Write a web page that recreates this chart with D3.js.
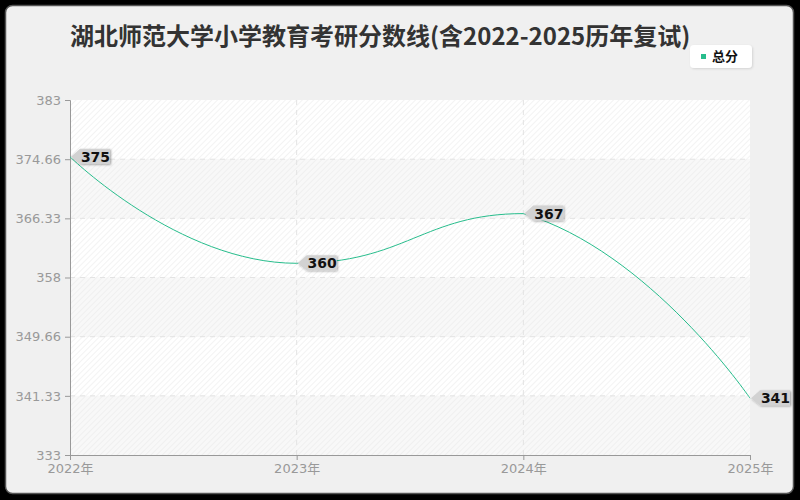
<!DOCTYPE html>
<html>
<head>
<meta charset="utf-8">
<script src="https://cdn.jsdelivr.net/npm/d3@7"></script>
<style>
  html, body { margin: 0; padding: 0; background: #000; }
  svg { display: block; }
</style>
</head>
<body>
<svg id="chart"></svg>
<script>
const chartTitle = "湖北师范大学小学教育考研分数线(含2022-2025历年复试)";
const seriesName = "总分";
const years = ["2022年", "2023年", "2024年", "2025年"];
const scores = [375, 360, 367, 341];
const yTicks = [333, 341.33, 349.66, 358, 366.33, 374.66, 383];

class LineChart {
    margin = { top: 100, right: 50, bottom: 45, left: 70 }

    constructor(svg, width = 800, height = 500) {
        this.svg = svg;
        this.width = width;
        this.height = height;
        this.color = "#27bd8c";
    }

    // smooth line, control points kept inside the box of the neighbours
    static smoothCurve(context) {
        let pts;
        const s = 0.5;
        return {
            areaStart() {}, areaEnd() {},
            lineStart() { pts = []; },
            point(x, y) { pts.push([+x, +y]); },
            lineEnd() {
                const n = pts.length;
                if (!n) return;
                context.moveTo(pts[0][0], pts[0][1]);
                let cx0 = pts[0][0], cy0 = pts[0][1];
                for (let i = 1; i < n; i++) {
                    const [x, y] = pts[i];
                    const [px, py] = pts[i - 1];
                    let cx1 = x, cy1 = y, nx0 = x, ny0 = y;
                    if (i < n - 1) {
                        const [nx, ny] = pts[i + 1];
                        let vx = nx - px, vy = ny - py;
                        const lp = Math.hypot(x - px, y - py);
                        const ln = Math.hypot(nx - x, ny - y);
                        const r = ln / (ln + lp);
                        nx0 = x + vx * s * r;
                        ny0 = y + vy * s * r;
                        nx0 = Math.max(Math.min(nx0, Math.max(nx, x)), Math.min(nx, x));
                        ny0 = Math.max(Math.min(ny0, Math.max(ny, y)), Math.min(ny, y));
                        vx = nx0 - x; vy = ny0 - y;
                        cx1 = x - vx * lp / ln;
                        cy1 = y - vy * lp / ln;
                        cx1 = Math.max(Math.min(cx1, Math.max(px, x)), Math.min(px, x));
                        cy1 = Math.max(Math.min(cy1, Math.max(py, y)), Math.min(py, y));
                    }
                    context.bezierCurveTo(cx0, cy0, cx1, cy1, x, y);
                    cx0 = nx0; cy0 = ny0;
                }
            }
        };
    }

    initialize() {
        const W = this.width, H = this.height, m = this.margin;
        this.svg = d3.select(this.svg).attr("width", W).attr("height", H);

        const defs = this.svg.append("defs");
        const pat = defs.append("pattern")
            .attr("id", "hatch")
            .attr("width", 4).attr("height", 4)
            .attr("patternUnits", "userSpaceOnUse")
            .attr("patternTransform", "rotate(45)");
        pat.append("line")
            .attr("x1", 0).attr("y1", 0).attr("x2", 0).attr("y2", 4)
            .attr("stroke", "#e8e8e8").attr("stroke-width", 1);
        const sh = defs.append("filter").attr("id", "shadow")
            .attr("x", "-20%").attr("y", "-30%").attr("width", "150%").attr("height", "170%");
        sh.append("feDropShadow")
            .attr("dx", 1).attr("dy", 1).attr("stdDeviation", 0.8)
            .attr("flood-color", "#000").attr("flood-opacity", 0.35);
        const sh2 = defs.append("filter").attr("id", "legshadow")
            .attr("x", "-20%").attr("y", "-30%").attr("width", "150%").attr("height", "170%");
        sh2.append("feDropShadow")
            .attr("dx", 1).attr("dy", 1).attr("stdDeviation", 1)
            .attr("flood-color", "#000").attr("flood-opacity", 0.12);

        // panel
        this.svg.append("rect")
            .attr("x", 5.5).attr("y", 5.5)
            .attr("width", W - 12).attr("height", H - 12)
            .attr("rx", 7)
            .attr("fill", "#f0f0f0")
            .attr("stroke", "#555").attr("stroke-width", 1.5);

        const x = d3.scalePoint().domain(years).range([m.left, W - m.right]);
        const y = d3.scaleLinear().domain([yTicks[0], yTicks[yTicks.length - 1]])
            .range([H - m.bottom, m.top]);

        // bands
        const bands = d3.pairs(yTicks);
        this.svg.append("g").selectAll("rect")
            .data(bands)
            .join("rect")
            .attr("x", m.left)
            .attr("width", W - m.right - m.left)
            .attr("y", d => y(d[1]))
            .attr("height", d => y(d[0]) - y(d[1]))
            .attr("fill", (d, i) => (bands.length - 1 - i) % 2 === 0 ? "#ffffff" : "#f8f8f8");
        this.svg.append("rect")
            .attr("x", m.left).attr("y", m.top)
            .attr("width", W - m.right - m.left).attr("height", H - m.bottom - m.top)
            .attr("fill", "url(#hatch)");

        // grid
        this.svg.append("g").selectAll("line")
            .data(yTicks.slice(1, -1))
            .join("line")
            .attr("x1", m.left).attr("x2", W - m.right)
            .attr("y1", d => y(d)).attr("y2", d => y(d))
            .attr("stroke", "#e3e3e3").attr("stroke-dasharray", "5,5");
        this.svg.append("g").selectAll("line")
            .data(years.slice(1, -1))
            .join("line")
            .attr("x1", d => x(d)).attr("x2", d => x(d))
            .attr("y1", m.top).attr("y2", H - m.bottom)
            .attr("stroke", "#e3e3e3").attr("stroke-dasharray", "5,5");

        // axes
        const yAxis = this.svg.append("g")
            .attr("transform", `translate(${m.left},0)`)
            .call(d3.axisLeft(y).tickValues(yTicks).tickFormat(d => d).tickSize(5).tickPadding(4));
        const xAxis = this.svg.append("g")
            .attr("transform", `translate(0,${H - m.bottom})`)
            .call(d3.axisBottom(x).tickSize(5).tickPadding(4));
        [xAxis, yAxis].forEach(a => {
            a.select(".domain").attr("stroke", "#999");
            a.selectAll(".tick line").attr("stroke", "#999");
            a.selectAll("text")
                .attr("fill", "#999")
                .attr("font-size", "13px")
                .attr("font-family", "'DejaVu Sans', 'Noto Sans CJK SC', sans-serif");
        });

        // line
        const line = d3.line()
            .x((d, i) => x(years[i]))
            .y(d => y(d))
            .curve(LineChart.smoothCurve);
        this.svg.append("path")
            .datum(scores)
            .attr("d", line)
            .attr("fill", "none")
            .attr("stroke", this.color)
            .attr("stroke-width", 1);

        // value tags
        const tags = this.svg.append("g").selectAll("g")
            .data(scores)
            .join("g")
            .attr("transform", (d, i) => `translate(${x(years[i])},${y(d)})`);
        tags.append("path")
            .attr("d", "M1,0 L10,-8 L40,-8 L40,7 L10,7 Z")
            .attr("fill", "#d2d2d2")
            .attr("filter", "url(#shadow)");
        tags.append("text")
            .text(d => d)
            .attr("x", 25.5).attr("y", 5)
            .attr("text-anchor", "middle")
            .attr("font-size", "14px")
            .attr("font-weight", "bold")
            .attr("fill", "#111")
            .attr("font-family", "'DejaVu Sans', sans-serif");

        // title
        this.svg.append("text")
            .text(chartTitle)
            .attr("x", 70).attr("y", 45)
            .attr("font-size", "24px")
            .attr("font-weight", "bold")
            .attr("fill", "#333")
            .attr("font-family", "'Noto Sans CJK SC', sans-serif");

        // legend
        const leg = this.svg.append("g").attr("transform", "translate(690,45)");
        leg.append("rect")
            .attr("width", 62).attr("height", 23).attr("rx", 4)
            .attr("fill", "#fff")
            .attr("filter", "url(#legshadow)");
        leg.append("rect")
            .attr("x", 11).attr("y", 9).attr("width", 5).attr("height", 5)
            .attr("fill", this.color);
        leg.append("text")
            .text(seriesName)
            .attr("x", 22).attr("y", 16)
            .attr("font-size", "13px")
            .attr("font-weight", "bold")
            .attr("fill", "#111")
            .attr("font-family", "'Noto Sans CJK SC', sans-serif");
    }
}

const chart = new LineChart(document.getElementById("chart"));
chart.initialize();
</script>
</body>
</html>
